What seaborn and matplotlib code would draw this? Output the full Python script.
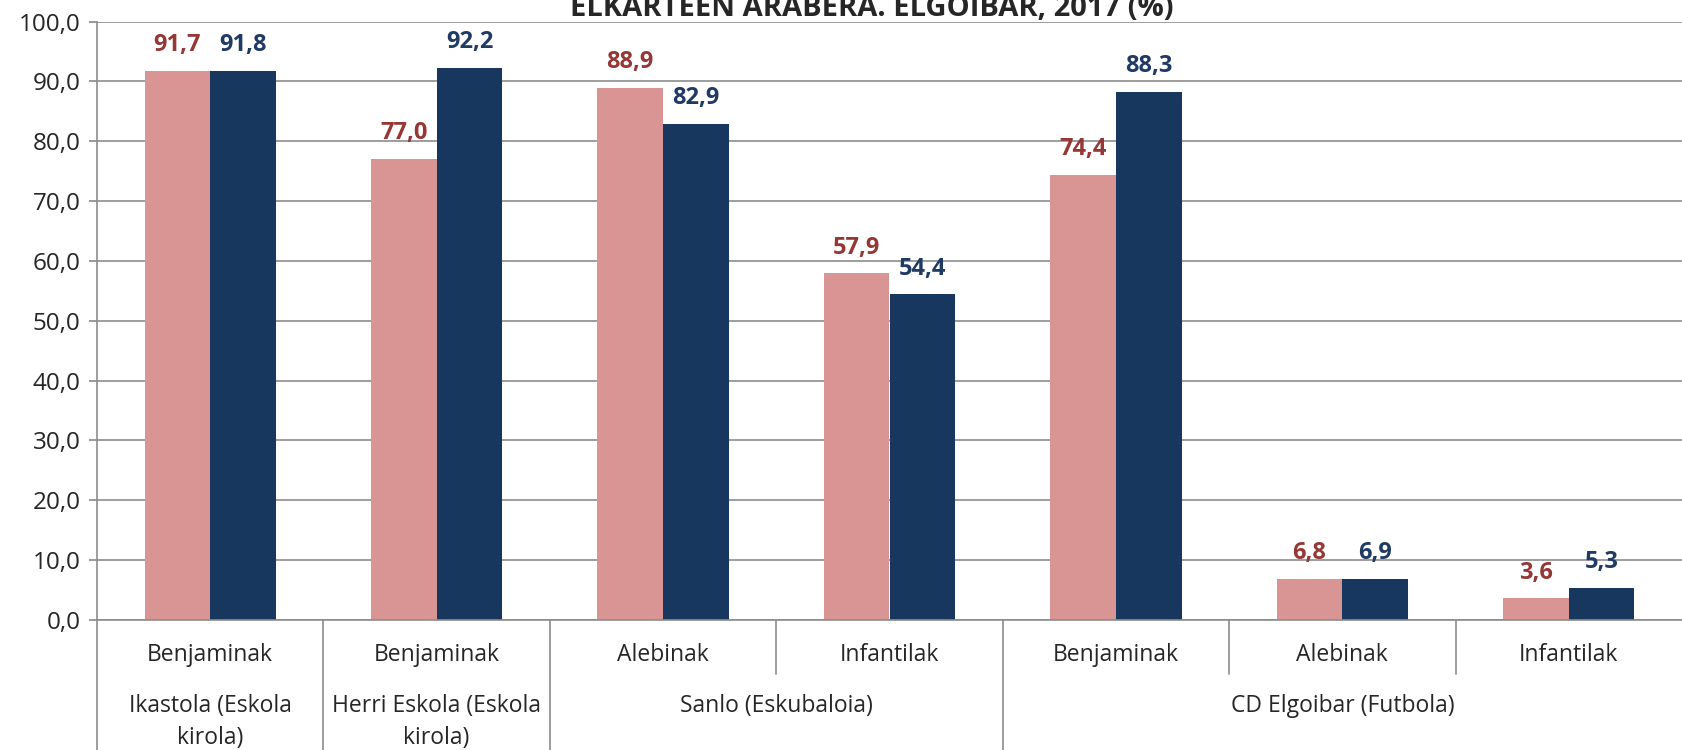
import pandas as pd
import matplotlib
matplotlib.use("Agg")
import matplotlib.pyplot as plt
import seaborn as sns

# data
groups = ["Ikastola (Eskola\nkirola)", "Herri Eskola (Eskola\nkirola)",
          "Sanlo (Eskubaloia)", "CD Elgoibar (Futbola)"]
group_sizes = [1, 1, 2, 3]
categories = ["Benjaminak", "Benjaminak", "Alebinak", "Infantilak",
              "Benjaminak", "Alebinak", "Infantilak"]
series_names = ["Neskak", "Mutilak"]
pink_values = [91.7, 77.0, 88.9, 57.9, 74.4, 6.8, 3.6]
navy_values = [91.8, 92.2, 82.9, 54.4, 88.3, 6.9, 5.3]
title = "ELKARTEEN ARABERA. ELGOIBAR, 2017 (%)"

sns.set_theme(style="white")
plt.rcParams["font.family"] = ["Open Sans", "DejaVu Sans"]

slots = [f"c{i}" for i in range(len(categories))]
df = pd.DataFrame({
    "slot": slots * 2,
    "value": pink_values + navy_values,
    "serie": [series_names[0]] * len(slots) + [series_names[1]] * len(slots),
})

pink, navy = "#D99594", "#17375E"
lab_pink, lab_navy = "#953735", "#1F3A63"
grey = "#8C8C8C"

W, H = 1682, 750
ax_bottom, ax_top = 620, 21.5
fig = plt.figure(figsize=(W / 100, H / 100), dpi=100)
ax = fig.add_axes([97 / W, 1 - ax_bottom / H, 1 - 97 / W, (ax_bottom - ax_top) / H])
sns.barplot(data=df, x="slot", y="value", hue="serie", palette=[pink, navy],
            width=0.58, saturation=1, ax=ax, legend=False, linewidth=0)

ax.set_xlim(-0.5, len(slots) - 0.5)
ax.set_ylim(0, 100)
ax.set_yticks(range(0, 101, 10))
ax.set_yticklabels([f"{v},0" for v in range(0, 101, 10)], fontsize=17.5)
ax.yaxis.grid(True, color=grey, linewidth=1.2)
ax.set_axisbelow(True)
ax.tick_params(axis="y", length=6, color=grey, pad=6, left=True)
ax.set_xticks([])
ax.set_xlabel("")
ax.set_ylabel("")
for s in ["top", "right"]:
    ax.spines[s].set_visible(False)
for s in ["left", "bottom"]:
    ax.spines[s].set_color(grey)
    ax.spines[s].set_linewidth(1.2)

for cont, col in zip(ax.containers, [lab_pink, lab_navy]):
    ax.bar_label(cont, labels=[f"{b.get_height():.1f}".replace(".", ",") for b in cont],
                 padding=10, color=col, fontsize=17, fontweight="bold")

# category labels and separators below the axis
trans = ax.get_xaxis_transform()
span = ax_bottom - ax_top


def below(px):
    return -(px - ax_bottom) / span


for i, c in enumerate(categories):
    ax.text(i, below(655), c, transform=trans, ha="center", va="center", fontsize=16.5)

start = 0
bounds = []
for g, n in zip(groups, group_sizes):
    center = start + (n - 1) / 2
    for k, line in enumerate(g.split("\n")):
        ax.text(center, below(706 + 32 * k), line, transform=trans,
                ha="center", va="center", fontsize=16.5)
    bounds.append(start - 0.5)
    start += n
for i in range(len(categories)):
    x = i - 0.5
    y_end = below(H) if x in bounds else below(674)
    ax.plot([x, x], [0, y_end], transform=trans, color=grey,
            linewidth=1.2, clip_on=False)

fig.text(0.518, 1 - 16.5 / H, title, ha="center", va="baseline",
         fontsize=21, fontweight="bold")

fig.savefig("out.png", dpi=100)
